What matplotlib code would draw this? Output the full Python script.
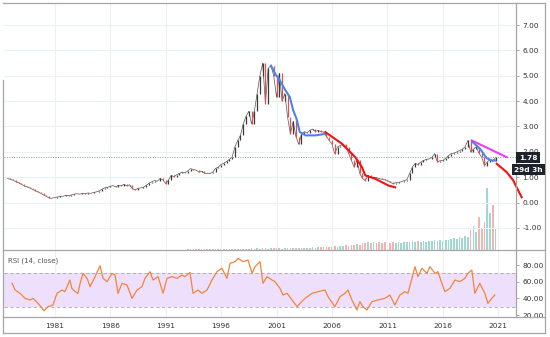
import numpy as np
import matplotlib
matplotlib.use('Agg')
import matplotlib.pyplot as plt
from matplotlib.lines import Line2D
from matplotlib.ticker import FormatStrFormatter

# --- quarterly closes, first quarter 1976.75 ---
close_70s = [0.95, 0.92, 0.88, 0.82, 0.78, 0.72, 0.66, 0.62, 0.58, 0.52, 0.47, 0.42, 0.36]
close_80s = [0.30, 0.24, 0.18, 0.17, 0.20, 0.22, 0.24, 0.25, 0.28, 0.27, 0.30, 0.33,
             0.35, 0.33, 0.36, 0.35, 0.38, 0.36, 0.40, 0.42, 0.46, 0.52, 0.58, 0.60,
             0.64, 0.67, 0.62, 0.68, 0.66, 0.72, 0.66, 0.70, 0.55, 0.50, 0.56, 0.58,
             0.60, 0.68, 0.76, 0.82]
close_90s = [0.87, 0.84, 0.95, 0.90, 0.75, 0.88, 1.07, 1.02, 1.10, 1.15, 1.20, 1.18,
             1.25, 1.34, 1.30, 1.28, 1.20, 1.24, 1.16, 1.15, 1.15, 1.20, 1.35, 1.40,
             1.50, 1.55, 1.62, 1.70, 1.80, 2.20, 2.45, 2.65, 3.10, 3.40, 3.60, 3.10,
             3.60, 4.30, 5.00, 5.50]
close_00s = [3.90, 5.30, 5.40, 5.00, 4.15, 5.10, 4.00, 4.30, 3.36, 2.70, 3.20, 2.60,
             2.30, 2.70, 2.80, 2.75, 2.85, 2.90, 2.80, 2.85, 2.80, 2.78, 2.60, 2.45,
             2.30, 1.93, 2.20, 2.25, 2.30, 2.20, 1.95, 1.66, 1.40, 1.66, 1.15, 0.95,
             0.87, 1.07, 1.00, 1.00]
close_10s = [0.98, 0.95, 0.92, 0.90, 0.87, 0.80, 0.75, 0.78, 0.80, 0.82, 0.87, 0.90,
             1.15, 1.40, 1.55, 1.50, 1.60, 1.66, 1.70, 1.72, 1.78, 1.93, 1.60, 1.65,
             1.66, 1.75, 1.85, 1.93, 1.95, 2.00, 2.05, 2.10, 2.20, 2.45, 2.00, 2.10,
             2.20, 1.95, 1.78, 1.46, 1.60, 1.70, 1.62, 1.78]

# volume per quarter from 1993.0
volume = [1, 1, 1, 1, 1, 1, 1, 1, 1, 1, 1.5, 1, 1.5, 1, 1.5, 1.5,
          1.5, 1.5, 1.5, 1.5, 1.5, 1.5, 1.5, 2, 1.5, 2, 1.5, 2, 2, 1.5, 2, 2,
          2, 2, 1.5, 2, 2, 2.5, 2, 2.5, 2.5, 2, 2.5, 2.5, 2.5, 3, 2.5, 3,
          3, 3, 3.5, 3, 3.5, 4, 3.5, 4, 4, 5, 4.5, 5, 5, 6, 5, 7,
          7, 8, 7, 8, 7, 8, 7, 8, 8, 7, 8, 7, 8, 7, 8, 8,
          8, 9, 8, 9, 8, 9, 8, 9, 9, 10, 9, 10, 9, 10, 10, 11,
          12, 11, 13, 12, 14, 13, 20, 24, 18, 33, 22, 28, 62, 37, 45, 22]

rsi_years = [1977.16, 1977.43, 1977.88, 1978.33, 1978.78, 1979.05, 1979.5, 1980.04, 1980.4,
             1980.85, 1981.2, 1981.65, 1981.92, 1982.37, 1982.55, 1982.84, 1983.1, 1983.29,
             1983.56, 1983.92, 1984.19, 1984.64, 1985.09, 1985.36, 1985.72, 1986.17, 1986.44,
             1986.71, 1987.07, 1987.52, 1987.97, 1988.42, 1988.87, 1989.14, 1989.59, 1989.86,
             1990.32, 1990.77, 1991.13, 1991.58, 1992.03, 1992.48, 1992.75, 1993.2, 1993.47,
             1993.92, 1994.28, 1994.73, 1995.18, 1995.63, 1996.08, 1996.53, 1996.81, 1997.26,
             1997.53, 1997.98, 1998.43, 1998.8, 1999.06, 1999.51, 1999.78, 2000.14, 2000.59,
             2000.86, 2001.31, 2001.58, 2001.95, 2002.4, 2002.85, 2003.12, 2003.57, 2004.2,
             2004.74, 2005.37, 2005.64, 2006.27, 2006.72, 2007.17, 2007.44, 2007.8, 2008.25,
             2008.52, 2008.79, 2009.15, 2009.6, 2010.14, 2010.77, 2011.22, 2011.67, 2012.12,
             2012.58, 2012.85, 2013.21, 2013.48, 2013.75, 2014.11, 2014.56, 2014.83, 2015.28,
             2015.55, 2015.91, 2016.18, 2016.63, 2017.08, 2017.53, 2017.98, 2018.25, 2018.61,
             2018.88, 2019.33, 2019.78, 2020.05, 2020.41, 2020.68]
rsi_values = [58, 50, 46, 40, 38, 40, 34, 25, 30,
              32, 46, 50, 48, 62, 52, 48, 46, 58,
              70, 64, 54, 66, 79, 64, 60, 70, 68,
              46, 58, 56, 40, 50, 54, 64, 72, 62,
              66, 46, 64, 66, 64, 68, 66, 71, 46,
              50, 46, 50, 62, 72, 76, 64, 82, 84,
              88, 84, 86, 70, 78, 84, 58, 66, 62,
              60, 52, 44, 46, 38, 30, 34, 40, 46,
              48, 50, 42, 30, 42, 46, 50, 38, 26,
              36, 30, 26, 36, 38, 40, 44, 32, 44,
              48, 46, 64, 78, 66, 76, 70, 78, 70,
              72, 58, 48, 52, 62, 60, 64, 70, 74,
              46, 58, 46, 34, 40, 44]

blue_a_years = [2000.5, 2000.9, 2001.2, 2001.8, 2002.2, 2002.5, 2002.8, 2003.1, 2003.6, 2004.5, 2005.4]
blue_a_vals = [5.4, 5.06, 4.89, 4.43, 4.16, 3.64, 3.31, 2.78, 2.65, 2.65, 2.71]
red_a_years = [2005.4, 2006.9, 2008.1, 2008.7, 2009.0, 2009.9, 2011.1, 2011.7]
red_a_vals = [2.78, 2.32, 1.79, 1.40, 1.07, 0.94, 0.67, 0.60]
magenta_years = [2018.6, 2021.75]
magenta_vals = [2.45, 1.79]
blue_b_years = [2018.7, 2019.35, 2019.95, 2020.4, 2020.7]
blue_b_vals = [2.38, 2.12, 1.75, 1.66, 1.66]
red_b_years = [2020.85, 2021.75, 2022.35, 2022.65, 2023.1]
red_b_vals = [1.53, 1.2, 0.87, 0.6, 0.21]

year_ticks = [1981, 1986, 1991, 1996, 2001, 2006, 2011, 2016, 2021]
price_ticks = [7, 6, 5, 4, 3, 2, 1, 0, -1]
rsi_ticks = [20, 40, 60, 80]

close = np.array(close_70s + close_80s + close_90s + close_00s + close_10s)
t = 1976.75 + 0.25 * np.arange(len(close))
opens = np.concatenate([[close[0]], close[:-1]])
up = close >= opens

W, H = 550, 337
fig = plt.figure(figsize=(W / 100, H / 100), dpi=100)
plt.rcParams['font.family'] = ['DejaVu Sans']

def fx(x):
    return x / W

def fy(y):
    return 1 - y / H

ax = fig.add_axes([fx(4), fy(250), (516 - 4) / W, 247 / H])
rsi = fig.add_axes([fx(4), fy(317), (516 - 4) / W, 67 / H])
vax = ax.twinx()
ax.set_zorder(vax.get_zorder() + 1)
ax.patch.set_visible(False)

grid_c = '#eceff3'
for a in (ax, rsi):
    a.set_xlim(1976.43, 2022.59)
    for s in a.spines.values():
        s.set_visible(False)
    for yr in year_ticks:
        a.axvline(yr, color=grid_c, lw=0.8, zorder=0)

ax.set_ylim(-1.87, 7.87)
for p in price_ticks:
    ax.axhline(p, color=grid_c, lw=0.8, zorder=0)

# volume
vt = t[t >= 1993.0][:len(volume)]
vup = up[t >= 1993.0][:len(volume)]
vcol = ['#9fd8cf' if u else '#f2b3b3' for u in vup]
vax.bar(vt, volume, width=0.15, color=vcol, linewidth=0)
vax.set_ylim(0, 247)
vax.set_yticks([])
for s in vax.spines.values():
    s.set_visible(False)

# candles: thin bodies on top of a thin close line
ax.plot(t, close, color='#555555', lw=0.5, zorder=2)
ccol = ['#3b3b3b' if u else '#d9534f' for u in up]
ax.vlines(t, opens, close, colors=ccol, lw=0.9, zorder=3)

ax.axhline(close[-1], color='#9a9a9a', lw=0.7, ls=(0, (1, 1.5)), zorder=2)

ax.plot(blue_a_years, blue_a_vals, color='#4b83f0', lw=1.5, zorder=4)
ax.plot(red_a_years, red_a_vals, color='#f21212', lw=1.5, zorder=4)
ax.plot(magenta_years, magenta_vals, color='#f03cf0', lw=1.5, zorder=4)
ax.plot(blue_b_years, blue_b_vals, color='#4b83f0', lw=1.5, zorder=4)
ax.plot(red_b_years, red_b_vals, color='#f21212', lw=1.5, zorder=4, clip_on=False)

ax.yaxis.tick_right()
ax.set_yticks(price_ticks)
ax.yaxis.set_major_formatter(FormatStrFormatter('%.2f'))
ax.tick_params(axis='y', length=2.5, width=0.6, colors='#9a9a9a', labelcolor='#333333', labelsize=5.3, pad=2)
ax.set_xticks([])

# RSI pane
rsi.set_ylim(17.6, 98)
rsi.axhspan(30, 70, color='#eee0fc', lw=0, zorder=0)
rsi.axhline(70, color='#a9a9a9', lw=0.6, ls=(0, (4, 3)), zorder=1)
rsi.axhline(30, color='#a9a9a9', lw=0.6, ls=(0, (4, 3)), zorder=1)
rsi.plot(rsi_years, rsi_values, color='#f2853a', lw=0.9, zorder=3)
rsi.yaxis.tick_right()
rsi.set_yticks(rsi_ticks)
rsi.yaxis.set_major_formatter(FormatStrFormatter('%.2f'))
rsi.tick_params(axis='y', length=2.5, width=0.6, colors='#9a9a9a', labelcolor='#333333', labelsize=5.3, pad=2)
rsi.set_xticks(year_ticks)
rsi.set_xticklabels([str(y) for y in year_ticks])
rsi.tick_params(axis='x', length=0, labelcolor='#333333', labelsize=5.3, pad=4)

fig.text(fx(8), fy(261), 'RSI (14, close)', fontsize=5, color='#555555', va='center')

# last price boxes
fig.text(fx(528), fy(157.5), '%.2f' % close[-1], ha='center', va='center', color='white',
         fontsize=5.3, weight='bold', bbox=dict(boxstyle='square,pad=0.35', fc='#1e222d', ec='none'))
fig.text(fx(528.5), fy(169.5), '29d 3h', ha='center', va='center', color='white',
         fontsize=5.3, weight='bold', bbox=dict(boxstyle='square,pad=0.3', fc='#1e222d', ec='none'))

# frame lines
frame = '#a6a6a6'
segs = [((3, 3), (545, 3)), ((545, 3), (545, 333)), ((3, 333), (545, 333)), ((3, 80), (3, 333)),
        ((516, 3), (516, 317)), ((3, 250), (545, 250)), ((3, 317), (545, 317))]
for (x0, y0), (x1, y1) in segs:
    fig.add_artist(Line2D([fx(x0), fx(x1)], [fy(y0), fy(y1)], color=frame, lw=0.9))

fig.savefig('out.png', dpi=100)
